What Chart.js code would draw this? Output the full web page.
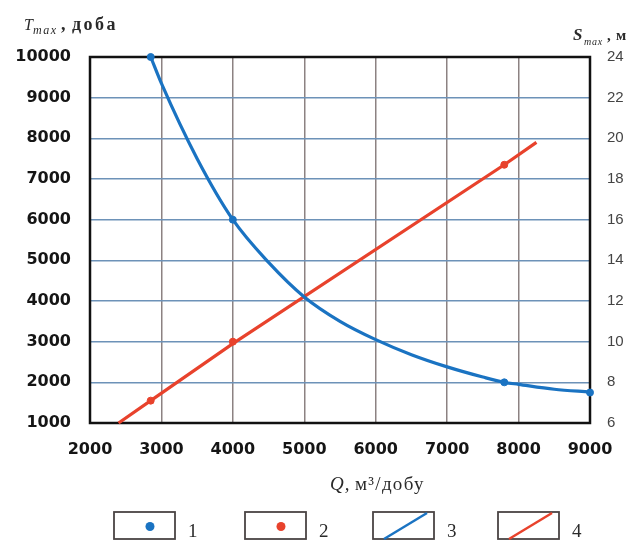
<!DOCTYPE html>
<html>
<head>
<meta charset="utf-8">
<script src="https://cdn.jsdelivr.net/npm/chart.js@4/dist/chart.umd.min.js"></script>
<style>
  html, body { margin: 0; padding: 0; background: #fff; }
  #wrap { width: 632px; height: 545px; }
</style>
</head>
<body>
<div id="wrap"><canvas id="c" width="632" height="545"></canvas></div>
<script>
// Q, m3/day
let qTicks = [2000, 3000, 4000, 5000, 6000, 7000, 8000, 9000];

// series 1: T_max measured points
let tPointsQ = [2850, 4000, 7800, 9000];
let tPointsT = [10000, 6000, 2000, 1750];

// series 2: S_max measured points
let sPointsQ = [2850, 4000, 7800];
let sPointsS = [7.1, 10, 18.7];

// series 3: T_max curve
let tCurveQ = [2850, 3000, 3500, 4000, 4500, 5000, 5500, 6000, 6500, 7000, 7500, 7800, 8000, 8500, 9000];
let tCurveT = [10000, 9350, 7500, 6000, 4950, 4100, 3500, 3050, 2680, 2380, 2130, 2000, 1950, 1830, 1760];

// series 4: S_max line
let sLineQ = [2400, 2850, 4000, 7800, 8250];
let sLineS = [6, 7.1, 9.9, 18.7, 19.8];

const BLUE = '#1a73c2';
const RED = '#e8422c';

function pts(xs, ys) {
    return xs.map((x, i) => ({ x: x, y: ys[i] }));
}

function txt(ctx, s, x, y, font, sp) {
    ctx.font = font;
    ctx.letterSpacing = (sp || 0) + 'px';
    ctx.fillText(s, x, y);
    return x + ctx.measureText(s).width;
}

let frame = {
    id: 'frame',
    beforeDatasetsDraw(chart) {
        let a = chart.chartArea, ctx = chart.ctx;
        ctx.save();
        ctx.strokeStyle = '#111';
        ctx.lineWidth = 2.5;
        ctx.strokeRect(a.left, a.top, a.right - a.left, a.bottom - a.top);
        ctx.restore();
    },
    afterDraw(chart) {
        let ctx = chart.ctx;
        ctx.save();
        ctx.fillStyle = '#2a2a2a';
        ctx.textBaseline = 'alphabetic';

        // left axis title
        txt(ctx, 'T', 24, 30, 'italic 16px "Liberation Serif"');
        txt(ctx, 'max', 33, 34, 'italic 12px "Liberation Serif"', 1.5);
        txt(ctx, ',', 61, 30, 'bold 18px "Liberation Serif"');
        txt(ctx, 'доба', 72, 30, 'bold 18px "Liberation Serif"', 2.5);

        // right axis title
        txt(ctx, 'S', 573, 40, 'italic bold 17px "Liberation Serif"');
        txt(ctx, 'max', 584, 45, 'italic 10px "Liberation Serif"', 0.8);
        txt(ctx, ',', 607, 40, 'bold 15px "Liberation Serif"');
        txt(ctx, 'м', 616, 40, 'bold 15px "Liberation Serif"', 1);

        // x axis title
        txt(ctx, 'Q,', 330, 490, 'italic 19px "Liberation Serif"', 1);
        txt(ctx, 'м³/добу', 355, 490, '19px "Liberation Serif"', 1.3);

        // legend
        let boxes = [114, 245, 373, 498];
        let names = ['1', '2', '3', '4'];
        boxes.forEach((bx, i) => {
            let by = 512, bw = 61, bh = 27;
            ctx.strokeStyle = '#4a4444';
            ctx.lineWidth = 1.8;
            ctx.strokeRect(bx, by, bw, bh);
            let col = (i % 2 === 0) ? BLUE : RED;
            if (i < 2) {
                ctx.fillStyle = col;
                ctx.beginPath();
                ctx.arc(bx + 36, by + bh / 2 + 1, 4.5, 0, Math.PI * 2);
                ctx.fill();
            } else {
                ctx.strokeStyle = col;
                ctx.lineWidth = 2.5;
                ctx.beginPath();
                ctx.moveTo(bx + 11, by + bh);
                ctx.lineTo(bx + bw - 7, by + 1);
                ctx.stroke();
            }
            ctx.fillStyle = '#2a2a2a';
            txt(ctx, names[i], bx + bw + 13, 537, '19px "Liberation Serif"');
        });
        ctx.restore();
    }
};

new Chart(document.getElementById('c'), {
    type: 'line',
    data: {
        datasets: [
            {
                label: '1', type: 'scatter', data: pts(tPointsQ, tPointsT), yAxisID: 'y',
                backgroundColor: BLUE, borderColor: BLUE, pointRadius: 3.5, clip: false, order: 0
            },
            {
                label: '2', type: 'scatter', data: pts(sPointsQ, sPointsS), yAxisID: 'y1',
                backgroundColor: RED, borderColor: RED, pointRadius: 3.5, clip: false, order: 0
            },
            {
                label: '3', data: pts(tCurveQ, tCurveT), yAxisID: 'y',
                borderColor: BLUE, borderWidth: 3.2, pointRadius: 0, tension: 0.4,
                cubicInterpolationMode: 'monotone', fill: false, clip: false, order: 1
            },
            {
                label: '4', data: pts(sLineQ, sLineS), yAxisID: 'y1',
                borderColor: RED, borderWidth: 3.2, pointRadius: 0, tension: 0,
                fill: false, clip: false, order: 1
            }
        ]
    },
    options: {
        responsive: false,
        animation: false,
        layout: { padding: { top: 57, left: 0, right: 0, bottom: 0 } },
        plugins: { legend: { display: false }, tooltip: { enabled: false } },
        scales: {
            x: {
                type: 'linear', min: 2000, max: 9000,
                afterBuildTicks: s => { s.ticks = qTicks.map(v => ({ value: v })); },
                afterFit: s => { s.height = 122; },
                grid: { color: '#8c8282', lineWidth: 1.5, drawTicks: false },
                border: { display: false },
                ticks: {
                    color: '#151515', padding: 17,
                    font: { family: '"DejaVu Sans"', size: 16, weight: 'bold' },
                    callback: v => String(v)
                }
            },
            y: {
                position: 'left', min: 1000, max: 10000,
                ticks: {
                    stepSize: 1000, color: '#151515', padding: 19,
                    font: { family: '"DejaVu Sans"', size: 16, weight: 'bold' },
                    callback: v => String(v)
                },
                afterFit: s => { s.width = 90; },
                grid: { color: '#6d92b8', lineWidth: 1.5, drawTicks: false },
                border: { display: false }
            },
            y1: {
                position: 'right', min: 6, max: 24,
                ticks: {
                    stepSize: 2, color: '#444', padding: 9,
                    font: { family: '"Liberation Sans"', size: 15 }
                },
                afterFit: s => { s.width = 42; },
                grid: { display: false },
                border: { display: false }
            }
        }
    },
    plugins: [frame]
});
</script>
</body>
</html>
